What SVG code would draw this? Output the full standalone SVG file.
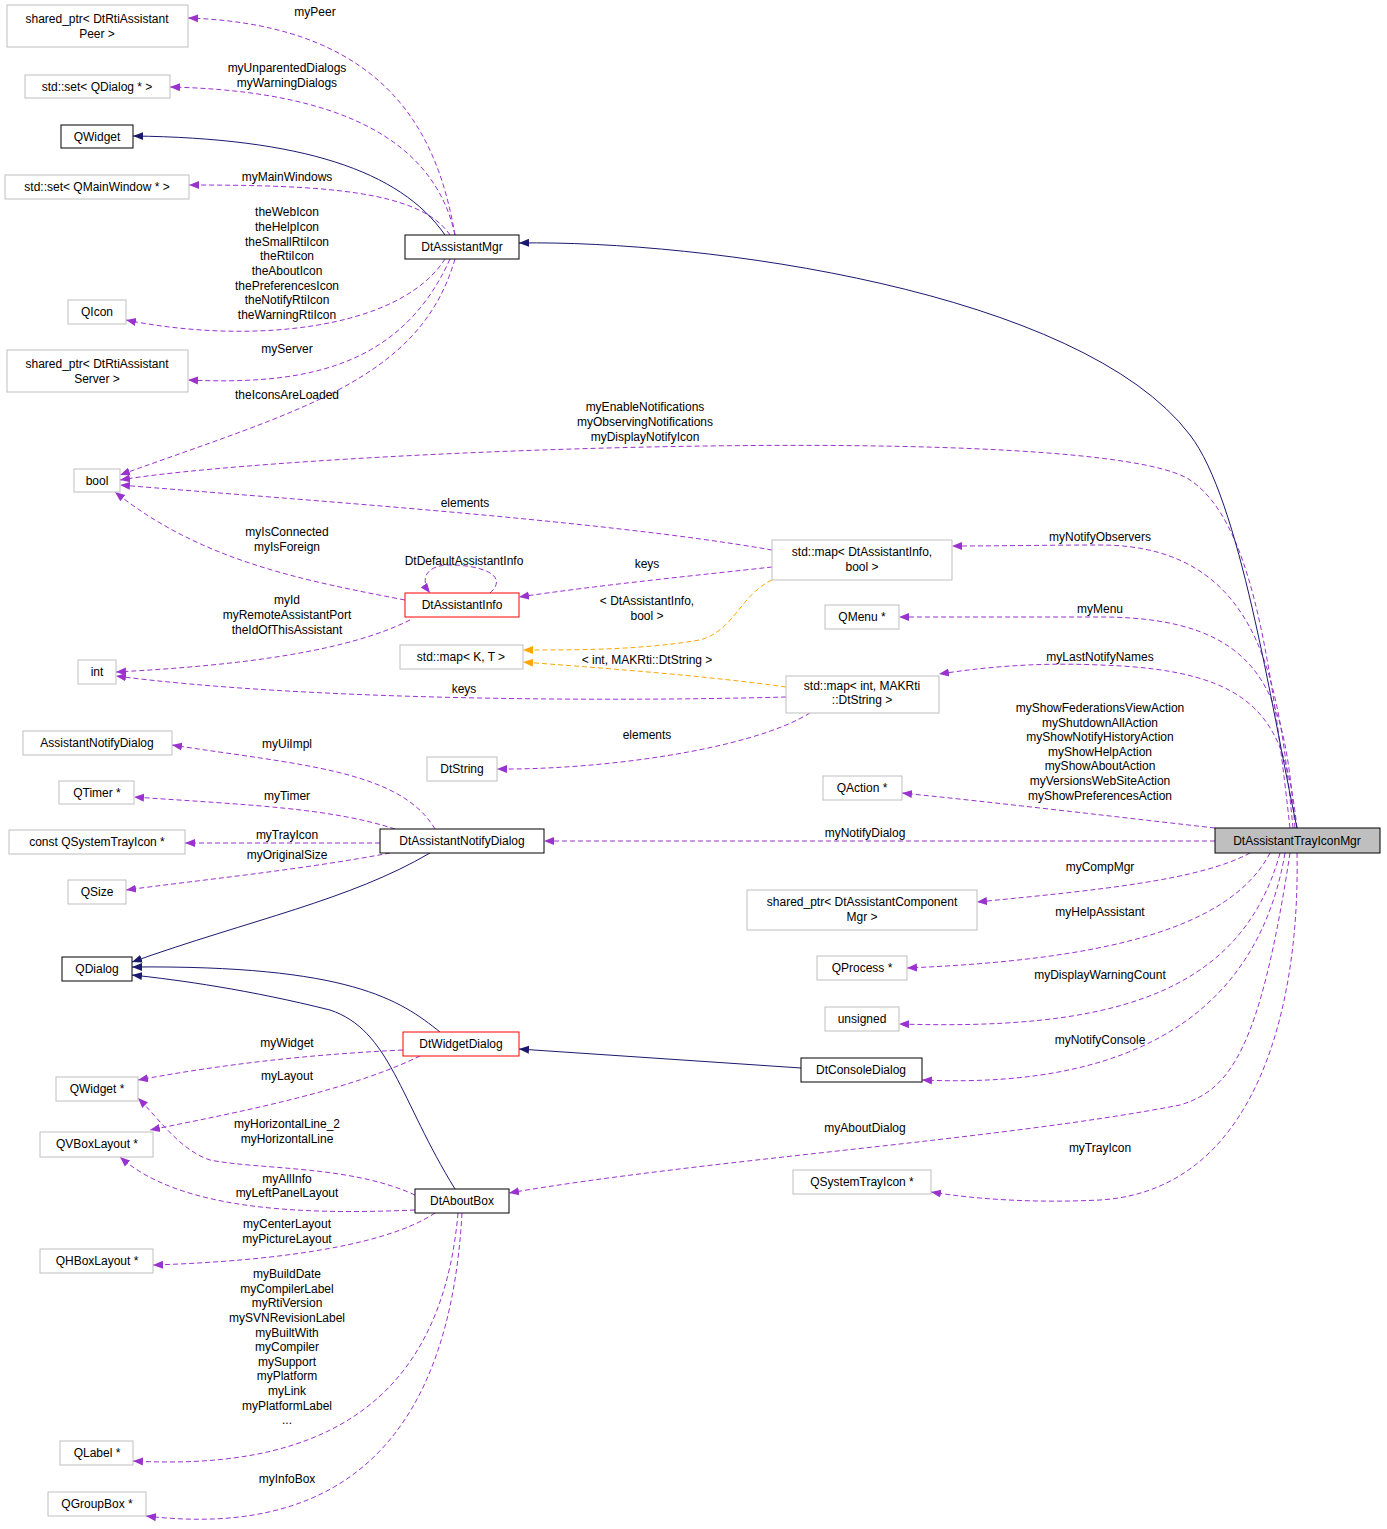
<svg xmlns="http://www.w3.org/2000/svg" width="1387" height="1529" viewBox="0 0 1387 1529">
<style>
text{font-family:"Liberation Sans",Arial,sans-serif;font-size:12px;fill:#000;text-anchor:middle}
.g rect{fill:#fff;stroke:#bfbfbf;stroke-width:1}
.b rect{fill:#fff;stroke:#000;stroke-width:1}
.r rect{fill:#fff;stroke:#ff0000;stroke-width:1}
.p{fill:none;stroke:#9a32cd;stroke-dasharray:5,3}
.u{fill:none;stroke:#191970}
.o{fill:none;stroke:#ffa500;stroke-dasharray:5,3}
</style>
<defs>
<marker id="mp" viewBox="0 0 10 10" refX="10" refY="5" markerWidth="10" markerHeight="10" markerUnits="userSpaceOnUse" orient="auto"><path d="M0,1L10,5L0,9z" fill="#9a32cd"/></marker>
<marker id="mu" viewBox="0 0 10 10" refX="10" refY="5" markerWidth="10" markerHeight="10" markerUnits="userSpaceOnUse" orient="auto"><path d="M0,1L10,5L0,9z" fill="#191970"/></marker>
<marker id="mo" viewBox="0 0 10 10" refX="10" refY="5" markerWidth="10" markerHeight="10" markerUnits="userSpaceOnUse" orient="auto"><path d="M0,1L10,5L0,9z" fill="#ffa500"/></marker>
</defs>
<rect width="1387" height="1529" fill="#fff"/>
<g id="edges">
<g marker-end="url(#mp)">
<path class="p" d="M455,235 C440,150 400,25 188,18"/>
<path class="p" d="M455,235 C430,120 300,90 170,87"/>
<path class="p" d="M450,235 C420,190 320,185 189,185"/>
<path class="p" d="M445,259 C400,330 250,345 126,320"/>
<path class="p" d="M450,259 C400,370 300,385 188,380"/>
<path class="p" d="M455,259 C420,380 300,410 120,475"/>
<path class="p" d="M1290,828 C1270,650 1250,520 1190,480 C1100,420 300,450 120,480"/>
<path class="p" d="M1293,828 C1280,700 1270,545 1100,545 C1050,545 1000,546 952,546"/>
<path class="p" d="M1295,828 C1285,700 1270,617 1100,617 C1000,617 950,617 899,617"/>
<path class="p" d="M1297,828 C1285,720 1260,670 1100,665 C1030,662 980,668 939,674"/>
<path class="p" d="M1215,828 C1100,815 1000,803 902,793"/>
<path class="p" d="M1215,841 L544,841"/>
<path class="p" d="M1250,853 C1200,880 1100,890 977,902"/>
<path class="p" d="M1270,853 C1230,930 1100,960 907,968"/>
<path class="p" d="M1280,853 C1240,1000 1100,1030 899,1024"/>
<path class="p" d="M1285,853 C1260,1000 1150,1090 922,1080"/>
<path class="p" d="M1290,853 C1260,1050 1230,1090 1180,1105 C1000,1140 700,1160 509,1193"/>
<path class="p" d="M1297,853 C1300,1000 1260,1190 1100,1200 C1040,1203 980,1200 931,1192"/>
<path class="p" d="M772,550 C600,520 300,500 120,485"/>
<path class="p" d="M772,567 C700,575 600,585 519,597"/>
<path class="p" d="M405,600 C300,580 200,560 115,492"/>
<path class="p" d="M410,620 C350,650 250,665 116,672"/>
<path class="p" d="M786,697 C600,702 300,700 116,676"/>
<path class="p" d="M810,713 C750,750 600,770 497,769"/>
<path class="p" d="M435,829 C400,770 300,765 172,745"/>
<path class="p" d="M395,829 C330,808 250,805 134,797"/>
<path class="p" d="M380,843 L185,843"/>
<path class="p" d="M390,853 C300,870 200,880 126,890"/>
<path class="p" d="M403,1050 C300,1055 220,1065 138,1080"/>
<path class="p" d="M420,1056 C350,1090 250,1110 150,1130"/>
<path class="p" d="M415,1195 C350,1165 260,1170 210,1160 C180,1150 160,1120 138,1098"/>
<path class="p" d="M415,1210 C300,1215 180,1210 120,1157"/>
<path class="p" d="M435,1213 C380,1250 250,1262 153,1265"/>
<path class="p" d="M458,1213 C440,1420 300,1470 133,1461"/>
<path class="p" d="M462,1213 C450,1430 350,1540 146,1516"/>
<path class="p" d="M490,593 C510,575 480,565 450,565 C425,565 420,580 430,593"/>
</g>
<g marker-end="url(#mu)">
<path class="u" d="M1297,828 C1270,700 1240,500 1190,435 C1080,290 700,240 519,243"/>
<path class="u" d="M445,235 C400,170 300,138 133,136"/>
<path class="u" d="M430,853 C350,900 250,920 132,962"/>
<path class="u" d="M440,1032 C400,1000 350,965 132,967"/>
<path class="u" d="M455,1189 C400,1100 390,1030 330,1010 C250,990 180,980 132,975"/>
<path class="u" d="M801,1068 L519,1049"/>
</g>
<g marker-end="url(#mo)">
<path class="o" d="M772,580 C740,595 735,630 700,640 C640,650 580,650 523,650"/>
<path class="o" d="M786,687 C700,675 600,668 523,662"/>
</g>
<text x="315" y="16">myPeer</text>
<text x="287" y="72">myUnparentedDialogs</text><text x="287" y="87">myWarningDialogs</text>
<text x="287" y="181">myMainWindows</text>
<text x="287" y="216">theWebIcon</text><text x="287" y="231">theHelpIcon</text><text x="287" y="246">theSmallRtiIcon</text><text x="287" y="260">theRtiIcon</text><text x="287" y="275">theAboutIcon</text><text x="287" y="290">thePreferencesIcon</text><text x="287" y="304">theNotifyRtiIcon</text><text x="287" y="319">theWarningRtiIcon</text>
<text x="287" y="353">myServer</text>
<text x="287" y="399">theIconsAreLoaded</text>
<text x="645" y="411">myEnableNotifications</text><text x="645" y="426">myObservingNotifications</text><text x="645" y="441">myDisplayNotifyIcon</text>
<text x="465" y="507">elements</text>
<text x="1100" y="541">myNotifyObservers</text>
<text x="287" y="536">myIsConnected</text><text x="287" y="551">myIsForeign</text>
<text x="464" y="565">DtDefaultAssistantInfo</text>
<text x="647" y="568">keys</text>
<text x="647" y="605">&lt; DtAssistantInfo,</text><text x="647" y="620">bool &gt;</text>
<text x="287" y="604">myId</text><text x="287" y="619">myRemoteAssistantPort</text><text x="287" y="634">theIdOfThisAssistant</text>
<text x="1100" y="613">myMenu</text>
<text x="1100" y="661">myLastNotifyNames</text>
<text x="647" y="664">&lt; int, MAKRti::DtString &gt;</text>
<text x="464" y="693">keys</text>
<text x="1100" y="712">myShowFederationsViewAction</text><text x="1100" y="727">myShutdownAllAction</text><text x="1100" y="741">myShowNotifyHistoryAction</text><text x="1100" y="756">myShowHelpAction</text><text x="1100" y="770">myShowAboutAction</text><text x="1100" y="785">myVersionsWebSiteAction</text><text x="1100" y="800">myShowPreferencesAction</text>
<text x="647" y="739">elements</text>
<text x="287" y="748">myUiImpl</text>
<text x="287" y="800">myTimer</text>
<text x="287" y="839">myTrayIcon</text>
<text x="287" y="859">myOriginalSize</text>
<text x="865" y="837">myNotifyDialog</text>
<text x="1100" y="871">myCompMgr</text>
<text x="1100" y="916">myHelpAssistant</text>
<text x="1100" y="979">myDisplayWarningCount</text>
<text x="1100" y="1044">myNotifyConsole</text>
<text x="287" y="1047">myWidget</text>
<text x="287" y="1080">myLayout</text>
<text x="287" y="1128">myHorizontalLine_2</text><text x="287" y="1143">myHorizontalLine</text>
<text x="865" y="1132">myAboutDialog</text>
<text x="1100" y="1152">myTrayIcon</text>
<text x="287" y="1183">myAllInfo</text><text x="287" y="1197">myLeftPanelLayout</text>
<text x="287" y="1228">myCenterLayout</text><text x="287" y="1243">myPictureLayout</text>
<text x="287" y="1278">myBuildDate</text><text x="287" y="1293">myCompilerLabel</text><text x="287" y="1307">myRtiVersion</text><text x="287" y="1322">mySVNRevisionLabel</text><text x="287" y="1337">myBuiltWith</text><text x="287" y="1351">myCompiler</text><text x="287" y="1366">mySupport</text><text x="287" y="1380">myPlatform</text><text x="287" y="1395">myLink</text><text x="287" y="1410">myPlatformLabel</text><text x="287" y="1424">...</text>
<text x="287" y="1483">myInfoBox</text>
</g>
<g id="n1" class="g"><rect x="7" y="5" width="181" height="42"/><text x="97" y="23">shared_ptr&lt; DtRtiAssistant</text><text x="97" y="38">Peer &gt;</text></g>
<g id="n2" class="g"><rect x="25" y="75" width="145" height="23"/><text x="97" y="91">std::set&lt; QDialog * &gt;</text></g>
<g id="n3" class="b"><rect x="61" y="125" width="72" height="23"/><text x="97" y="141">QWidget</text></g>
<g id="n4" class="g"><rect x="5" y="175" width="184" height="24"/><text x="97" y="191">std::set&lt; QMainWindow * &gt;</text></g>
<g id="n5" class="g"><rect x="68" y="300" width="58" height="24"/><text x="97" y="316">QIcon</text></g>
<g id="n6" class="g"><rect x="7" y="350" width="181" height="42"/><text x="97" y="368">shared_ptr&lt; DtRtiAssistant</text><text x="97" y="383">Server &gt;</text></g>
<g id="n7" class="g"><rect x="74" y="469" width="46" height="23"/><text x="97" y="485">bool</text></g>
<g id="n8" class="g"><rect x="78" y="660" width="38" height="24"/><text x="97" y="676">int</text></g>
<g id="n9" class="g"><rect x="23" y="731" width="149" height="24"/><text x="97" y="747">AssistantNotifyDialog</text></g>
<g id="n10" class="g"><rect x="59" y="781" width="75" height="23"/><text x="97" y="797">QTimer *</text></g>
<g id="n11" class="g"><rect x="9" y="830" width="176" height="24"/><text x="97" y="846">const QSystemTrayIcon *</text></g>
<g id="n12" class="g"><rect x="68" y="880" width="58" height="24"/><text x="97" y="896">QSize</text></g>
<g id="n13" class="b"><rect x="62" y="957" width="70" height="24"/><text x="97" y="973">QDialog</text></g>
<g id="n14" class="g"><rect x="56" y="1077" width="82" height="24"/><text x="97" y="1093">QWidget *</text></g>
<g id="n15" class="g"><rect x="40" y="1132" width="113" height="25"/><text x="97" y="1148">QVBoxLayout *</text></g>
<g id="n16" class="g"><rect x="40" y="1249" width="113" height="24"/><text x="97" y="1265">QHBoxLayout *</text></g>
<g id="n17" class="g"><rect x="60" y="1441" width="73" height="24"/><text x="97" y="1457">QLabel *</text></g>
<g id="n18" class="g"><rect x="48" y="1492" width="98" height="24"/><text x="97" y="1508">QGroupBox *</text></g>
<g id="n19" class="b"><rect x="405" y="235" width="114" height="24"/><text x="462" y="251">DtAssistantMgr</text></g>
<g id="n20" class="r"><rect x="405" y="593" width="114" height="24"/><text x="462" y="609">DtAssistantInfo</text></g>
<g id="n21" class="g"><rect x="400" y="645" width="123" height="24"/><text x="461" y="661">std::map&lt; K, T &gt;</text></g>
<g id="n22" class="g"><rect x="427" y="757" width="70" height="24"/><text x="462" y="773">DtString</text></g>
<g id="n23" class="b"><rect x="380" y="829" width="164" height="24"/><text x="462" y="845">DtAssistantNotifyDialog</text></g>
<g id="n24" class="r"><rect x="403" y="1032" width="116" height="24"/><text x="461" y="1048">DtWidgetDialog</text></g>
<g id="n25" class="b"><rect x="415" y="1189" width="94" height="24"/><text x="462" y="1205">DtAboutBox</text></g>
<g id="n26" class="g"><rect x="772" y="540" width="180" height="40"/><text x="862" y="556">std::map&lt; DtAssistantInfo,</text><text x="862" y="571">bool &gt;</text></g>
<g id="n27" class="g"><rect x="825" y="605" width="74" height="24"/><text x="862" y="621">QMenu *</text></g>
<g id="n28" class="g"><rect x="786" y="676" width="153" height="37"/><text x="862" y="690">std::map&lt; int, MAKRti</text><text x="862" y="704">::DtString &gt;</text></g>
<g id="n29" class="g"><rect x="823" y="776" width="79" height="24"/><text x="862" y="792">QAction *</text></g>
<g id="n30" class="g"><rect x="747" y="890" width="230" height="40"/><text x="862" y="906">shared_ptr&lt; DtAssistantComponent</text><text x="862" y="921">Mgr &gt;</text></g>
<g id="n31" class="g"><rect x="817" y="956" width="90" height="24"/><text x="862" y="972">QProcess *</text></g>
<g id="n32" class="g"><rect x="825" y="1007" width="74" height="24"/><text x="862" y="1023">unsigned</text></g>
<g id="n33" class="b"><rect x="801" y="1058" width="121" height="24"/><text x="861" y="1074">DtConsoleDialog</text></g>
<g id="n34" class="g"><rect x="793" y="1170" width="138" height="24"/><text x="862" y="1186">QSystemTrayIcon *</text></g>
<g id="n35"><rect x="1215" y="828" width="165" height="25" fill="#bfbfbf" stroke="#000"/><text x="1297" y="845">DtAssistantTrayIconMgr</text></g>
</svg>
